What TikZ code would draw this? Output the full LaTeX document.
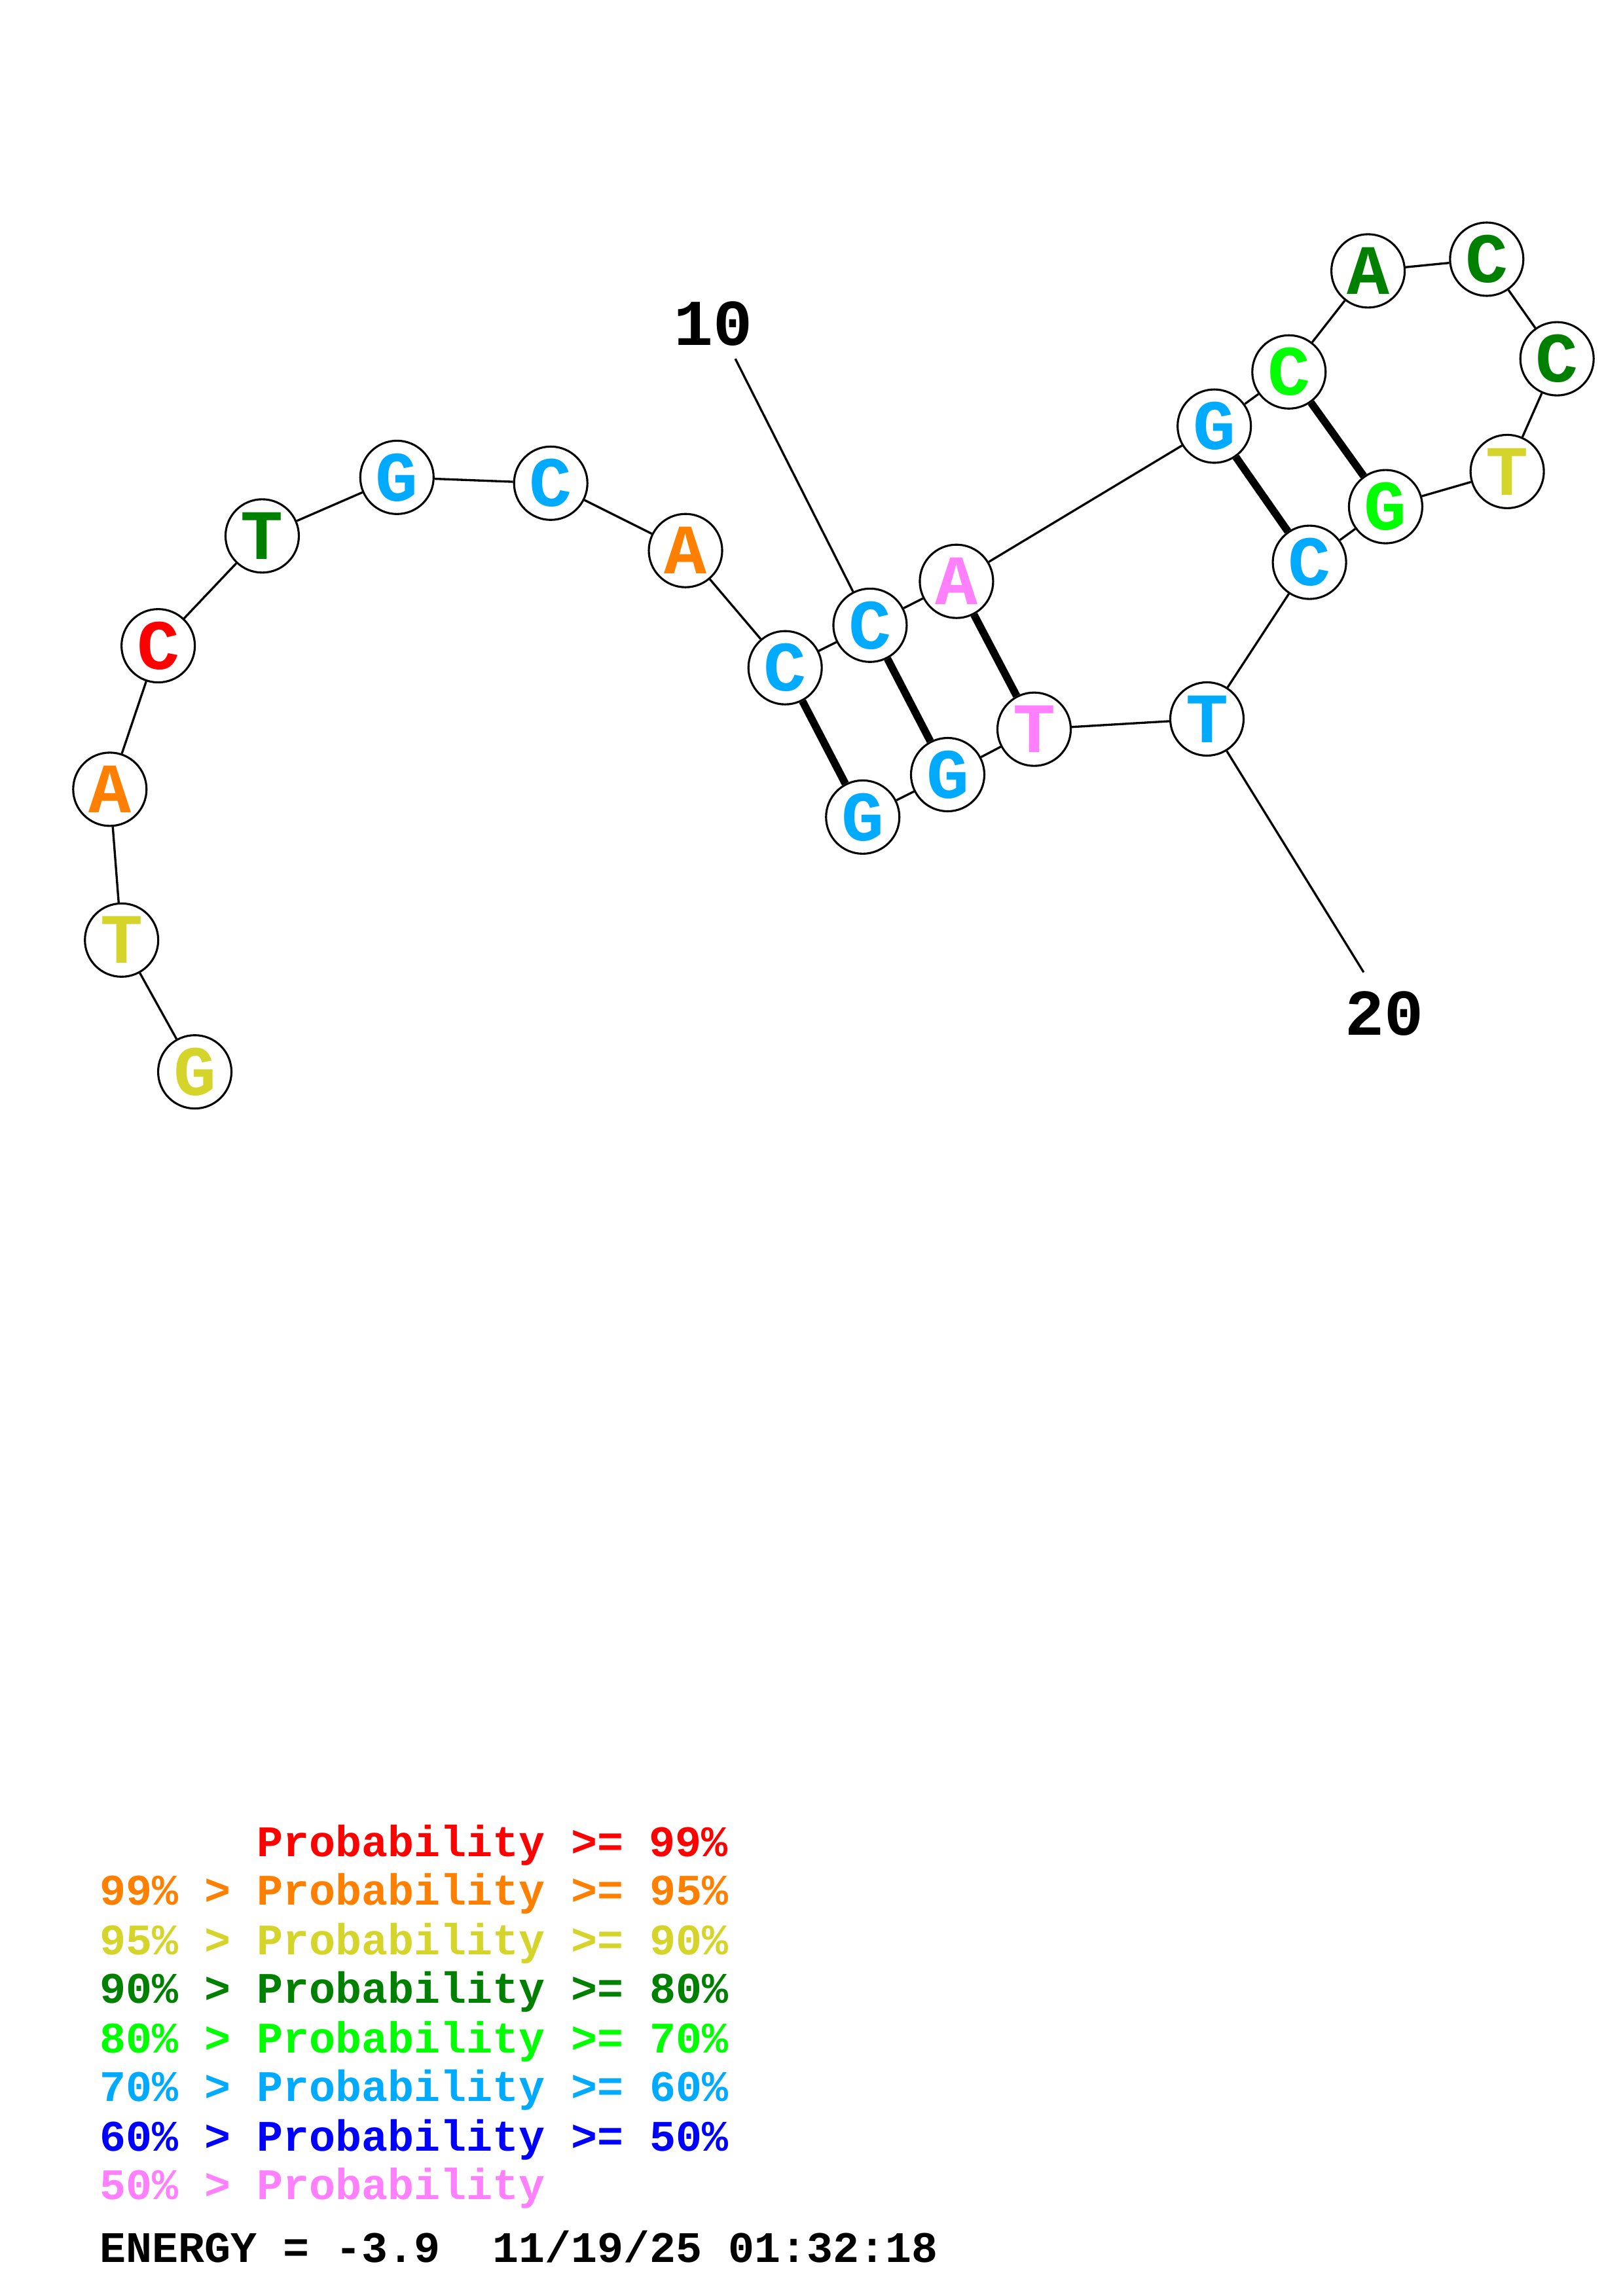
\documentclass[tikz,border=0pt]{standalone}
\usepackage{fontspec}
\newfontfamily\monob[BoldFont={Liberation Mono Bold}]{Liberation Mono}
\definecolor{cRed}{RGB}{255,0,0}
\definecolor{cOrange}{RGB}{255,128,0}
\definecolor{cYellow}{RGB}{212,212,42}
\definecolor{cDkGreen}{RGB}{0,128,0}
\definecolor{cGreen}{RGB}{0,255,0}
\definecolor{cLtBlue}{RGB}{0,170,255}
\definecolor{cBlue}{RGB}{0,0,255}
\definecolor{cPink}{RGB}{255,128,255}
\begin{document}
\begin{tikzpicture}[x=0.53726pt,y=-0.53726pt,
  base/.style={circle,draw,line width=0.75pt,minimum size=26.9pt,inner sep=0pt,fill=white,
    font=\monob\bfseries\fontsize{26}{26}\selectfont},
  bb/.style={line width=0.8pt},
  pairline/.style={line width=2.8pt},
  numlbl/.style={font=\monob\bfseries\fontsize{24}{24}\selectfont,inner sep=0pt},
  leg/.style={anchor=base west,inner sep=0pt,font=\monob\bfseries\fontsize{16}{16}\selectfont}]
\useasboundingbox (0,0) rectangle (1108,1568);
\node[base,text=cYellow] (n1) at (133,732) {G};
\node[base,text=cYellow] (n2) at (83,642) {T};
\node[base,text=cOrange] (n3) at (75,539) {A};
\node[base,text=cRed] (n4) at (108,441) {C};
\node[base,text=cDkGreen] (n5) at (179,366) {T};
\node[base,text=cLtBlue] (n6) at (271,326) {G};
\node[base,text=cLtBlue] (n7) at (376,330) {C};
\node[base,text=cOrange] (n8) at (468,376) {A};
\node[base,text=cLtBlue] (n9) at (536,456) {C};
\node[base,text=cLtBlue] (n10) at (594,427) {C};
\node[base,text=cPink] (n11) at (653,397) {A};
\node[base,text=cLtBlue] (n12) at (829,291) {G};
\node[base,text=cGreen] (n13) at (880,254) {C};
\node[base,text=cDkGreen] (n14) at (934,185) {A};
\node[base,text=cDkGreen] (n15) at (1015,177) {C};
\node[base,text=cDkGreen] (n16) at (1063,245) {C};
\node[base,text=cYellow] (n17) at (1029,322) {T};
\node[base,text=cGreen] (n18) at (946,346) {G};
\node[base,text=cLtBlue] (n19) at (894,384) {C};
\node[base,text=cLtBlue] (n20) at (824,491) {T};
\node[base,text=cPink] (n21) at (706,498) {T};
\node[base,text=cLtBlue] (n22) at (647,529) {G};
\node[base,text=cLtBlue] (n23) at (589,558) {G};
\foreach \a/\b in {1/2,2/3,3/4,4/5,5/6,6/7,7/8,8/9,9/10,10/11,11/12,12/13,13/14,14/15,15/16,16/17,17/18,18/19,19/20,20/21,21/22,22/23}
  \draw[bb] (n\a) -- (n\b);
\foreach \a/\b in {9/23,10/22,11/21,12/19,13/18}
  \draw[pairline] (n\a) -- (n\b);
% numbering labels
\node[numlbl] (l10) at (487,221) {10};
\coordinate (l10e) at (502,245);
\draw[bb] (l10e) -- (n10);
\node[numlbl] (l20) at (945,692) {20};
\coordinate (l20e) at (931,664);
\draw[bb] (n20) -- (l20e);
% legend
\node[leg,text=cRed] (g1) at (175,1268) {Probability >= 99\%};
\node[leg,text=cOrange] (g2) at (68,1301) {99\% > Probability >= 95\%};
\node[leg,text=cYellow] (g3) at (68,1335) {95\% > Probability >= 90\%};
\node[leg,text=cDkGreen] (g4) at (68,1368) {90\% > Probability >= 80\%};
\node[leg,text=cGreen] (g5) at (68,1402) {80\% > Probability >= 70\%};
\node[leg,text=cLtBlue] (g6) at (68,1435) {70\% > Probability >= 60\%};
\node[leg,text=cBlue] (g7) at (68,1469) {60\% > Probability >= 50\%};
\node[leg,text=cPink] (g8) at (68,1502) {50\% > Probability};
\node[leg,text=black] (g9) at (68,1545) {ENERGY = -3.9\ \ 11/19/25 01:32:18};
\end{tikzpicture}
\end{document}
